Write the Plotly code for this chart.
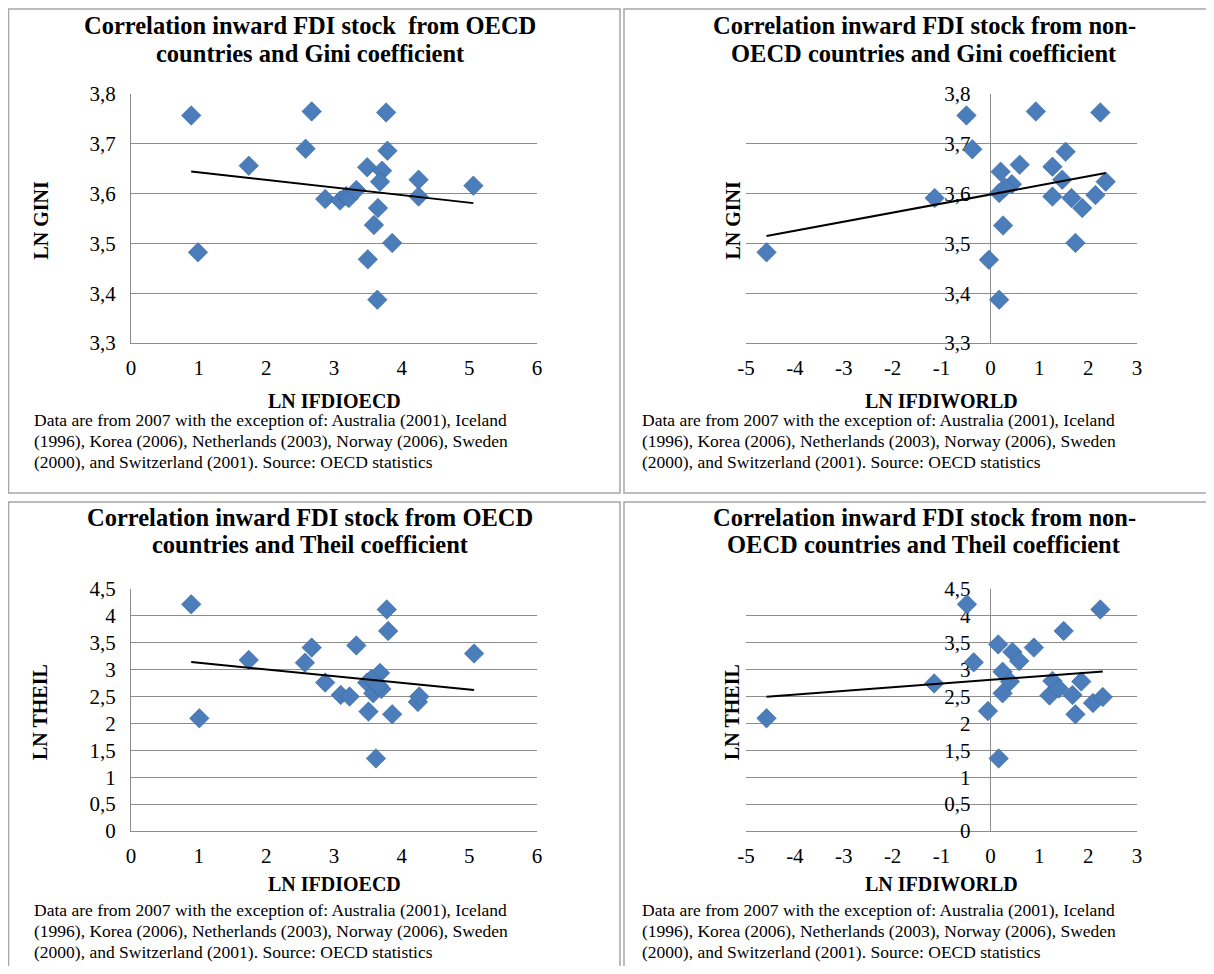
import numpy as np
import plotly.graph_objects as go

# The page keeps the browser's default 8px body margin, so the figure is
# sized to fill the 1214x974 window exactly with that margin around it.
PAGE_W, PAGE_H = 1214, 974
OFF = 8
W, H = PAGE_W - 2 * OFF, PAGE_H - 2 * OFF

# ---------------- data ----------------
# Panel 1: LN IFDIOECD vs LN GINI
oecd_x_gini = [0.89, 0.99, 1.74, 2.67, 2.58, 2.87, 3.09, 3.18, 3.22, 3.33, 3.49, 3.50,
               3.64, 3.59, 3.65, 3.71, 3.68, 3.77, 3.79, 3.86, 4.25, 4.25, 5.06]
gini_oecd = [3.757, 3.482, 3.656, 3.765, 3.690, 3.589, 3.586, 3.595, 3.591, 3.607, 3.653, 3.468,
             3.387, 3.537, 3.571, 3.646, 3.624, 3.763, 3.686, 3.501, 3.628, 3.594, 3.616]

# Panel 2: LN IFDIWORLD vs LN GINI
world_x_gini = [-4.58, -1.14, -0.49, -0.37, -0.03, 0.18, 0.26, 0.21, 0.18, 0.44, 0.60, 0.93,
                1.27, 1.27, 1.47, 1.54, 1.66, 1.74, 1.88, 2.15, 2.25, 2.36, 0.30]
gini_world = [3.482, 3.591, 3.757, 3.689, 3.467, 3.387, 3.536, 3.644, 3.601, 3.619, 3.658, 3.765,
              3.654, 3.594, 3.628, 3.684, 3.591, 3.501, 3.571, 3.597, 3.763, 3.624, 3.612]

# Panel 3: LN IFDIOECD vs LN THEIL
oecd_x_theil = [0.89, 1.01, 1.74, 2.67, 2.57, 2.87, 3.10, 3.23, 3.33, 3.49, 3.51, 3.62,
                3.58, 3.68, 3.70, 3.55, 3.66, 3.78, 3.80, 3.86, 4.24, 4.26, 5.07]
theil_oecd = [4.215, 2.095, 3.18, 3.41, 3.13, 2.76, 2.53, 2.50, 3.45, 2.76, 2.22, 1.35,
              2.56, 2.94, 2.64, 2.82, 2.70, 4.12, 3.72, 2.17, 2.40, 2.50, 3.30]

# Panel 4: LN IFDIWORLD vs LN THEIL
world_x_theil = [-4.58, -1.15, -0.48, -0.34, -0.05, 0.17, 0.16, 0.25, 0.25, 0.40, 0.45, 0.59,
                 0.89, 1.21, 1.27, 1.40, 1.50, 1.68, 1.74, 1.86, 2.10, 2.25, 2.30]
theil_world = [2.095, 2.745, 4.215, 3.136, 2.23, 1.35, 3.47, 2.96, 2.56, 2.78, 3.33, 3.16,
               3.41, 2.52, 2.79, 2.65, 3.72, 2.53, 2.17, 2.78, 2.38, 4.12, 2.49]

# ticks
oecd_ticks = [0, 1, 2, 3, 4, 5, 6]
world_ticks = [-5, -4, -3, -2, -1, 0, 1, 2, 3]
gini_ticks = [3.3, 3.4, 3.5, 3.6, 3.7, 3.8]
theil_ticks = [0, 0.5, 1, 1.5, 2, 2.5, 3, 3.5, 4, 4.5]

titles = [
    ["Correlation inward FDI stock  from OECD", "countries and Gini coefficient"],
    ["Correlation inward FDI stock from non-", "OECD countries and Gini coefficient"],
    ["Correlation inward FDI stock from OECD", "countries and Theil coefficient"],
    ["Correlation inward FDI stock from non-", "OECD countries and Theil coefficient"],
]
xtitles = ["LN IFDIOECD", "LN IFDIWORLD", "LN IFDIOECD", "LN IFDIWORLD"]
ytitles = ["LN GINI", "LN GINI", "LN THEIL", "LN THEIL"]
note_lines = [
    "Data are from 2007 with the exception of: Australia (2001), Iceland",
    "(1996), Korea (2006), Netherlands (2003), Norway (2006), Sweden",
    "(2000), and Switzerland (2001). Source: OECD statistics",
]

# ---------------- layout helpers ----------------
FONT = "Liberation Serif, Times New Roman, serif"
GRID = "#8c8c8c"
MARK = "#4a7dba"


def fx(p):  # screen pixel -> paper fraction
    return (p - OFF) / W


def fy(p):
    return 1 - (p - OFF) / H


def fmt(v):
    return ("%g" % v).replace(".", ",")


panels = [
    dict(x=oecd_x_gini, y=gini_oecd, xr=[0, 6], xt=oecd_ticks, yr=[3.3, 3.8], yt=gini_ticks,
         px=(131, 537), py=(94, 343), box=(8.5, 9, 620, 493), world=False,
         title_y=26, xtitle_y=401, note_y=420),
    dict(x=world_x_gini, y=gini_world, xr=[-5, 3], xt=world_ticks, yr=[3.3, 3.8], yt=gini_ticks,
         px=(746, 1137), py=(94, 343), box=(624, 9, 1230, 493), world=True,
         title_y=26, xtitle_y=401, note_y=420),
    dict(x=oecd_x_theil, y=theil_oecd, xr=[0, 6], xt=oecd_ticks, yr=[0, 4.5], yt=theil_ticks,
         px=(131, 537), py=(589, 831), box=(8.5, 502, 620, 990), world=False,
         title_y=517, xtitle_y=884, note_y=910),
    dict(x=world_x_theil, y=theil_world, xr=[-5, 3], xt=world_ticks, yr=[0, 4.5], yt=theil_ticks,
         px=(746, 1137), py=(589, 831), box=(624, 502, 1230, 990), world=True,
         title_y=517, xtitle_y=884, note_y=910),
]

fig = go.Figure()
annotations = []
shapes = []
layout = {}

for i, p in enumerate(panels):
    n = i + 1
    xa = "x" if n == 1 else "x%d" % n
    ya = "y" if n == 1 else "y%d" % n
    xkey = "xaxis" if n == 1 else "xaxis%d" % n
    ykey = "yaxis" if n == 1 else "yaxis%d" % n

    fig.add_trace(go.Scatter(
        x=p["x"], y=p["y"], mode="markers", xaxis=xa, yaxis=ya,
        marker=dict(symbol="diamond", size=15, color=MARK,
                    line=dict(color="#3a679f", width=0.6)),
        showlegend=False, hoverinfo="skip"))
    # linear trendline (least squares over the data)
    xs = np.array(p["x"], dtype=float)
    ys = np.array(p["y"], dtype=float)
    k, b = np.polyfit(xs, ys, 1)
    xl = np.array([xs.min(), xs.max()])
    fig.add_trace(go.Scatter(
        x=xl, y=k * xl + b, mode="lines", xaxis=xa, yaxis=ya,
        line=dict(color="black", width=2), showlegend=False, hoverinfo="skip"))

    xd = [fx(p["px"][0]), fx(p["px"][1])]
    yd = [fy(p["py"][1]), fy(p["py"][0])]
    layout[xkey] = dict(
        domain=xd, range=p["xr"], anchor=ya, tickmode="array", tickvals=p["xt"],
        ticktext=[fmt(v) for v in p["xt"]], showgrid=False, showline=True,
        linecolor=GRID, linewidth=1, ticks="", ticklabelstandoff=6, automargin=False,
        tickfont=dict(family=FONT, size=21, color="#000"),
        zeroline=p["world"], zerolinecolor=GRID, zerolinewidth=1,
        fixedrange=True, layer="below traces")
    yax = dict(
        domain=yd, range=p["yr"], tickmode="array", tickvals=p["yt"],
        ticktext=[fmt(v) for v in p["yt"]], showgrid=True, gridcolor=GRID, gridwidth=1,
        zeroline=False, ticks="", automargin=False,
        tickfont=dict(family=FONT, size=21, color="#000"),
        fixedrange=True, layer="below traces")
    if p["world"]:
        frac = (0 - p["xr"][0]) / (p["xr"][1] - p["xr"][0])
        yax.update(anchor="free", position=xd[0] + (xd[1] - xd[0]) * frac, showline=False,
                   ticklabelstandoff=20)
    else:
        yax.update(anchor=xa, showline=True, linecolor=GRID, linewidth=1,
                   ticklabelstandoff=10)
    layout[ykey] = yax

    # panel box
    bx0, by0, bx1, by1 = p["box"]
    shapes.append(dict(type="rect", xref="paper", yref="paper",
                       x0=fx(bx0), x1=fx(bx1), y0=fy(by1), y1=fy(by0),
                       line=dict(color="#a6a6a6", width=1.5), layer="below"))

    # chart titles
    cx = 310 if not p["world"] else 924
    for j, line in enumerate(titles[i]):
        annotations.append(dict(
            text="<b>%s</b>" % line, xref="paper", yref="paper",
            x=fx(cx), y=fy(p["title_y"] + j * 27.5), xanchor="center", yanchor="middle",
            showarrow=False, font=dict(family=FONT, size=24.5, color="#000")))
    # axis titles
    xcx = (p["px"][0] + p["px"][1]) / 2
    annotations.append(dict(
        text="<b>%s</b>" % xtitles[i], xref="paper", yref="paper",
        x=fx(xcx), y=fy(p["xtitle_y"]), xanchor="center", yanchor="middle",
        showarrow=False, font=dict(family=FONT, size=20, color="#000")))
    ycx = 40 if not p["world"] else 732
    annotations.append(dict(
        text="<b>%s</b>" % ytitles[i], xref="paper", yref="paper",
        x=fx(ycx), y=fy((p["py"][0] + p["py"][1]) / 2 + 2), xanchor="center",
        yanchor="middle", textangle=-90,
        showarrow=False, font=dict(family=FONT, size=20, color="#000")))
    # footnote, one annotation per line
    fx0 = 32 if not p["world"] else 640
    for j, line in enumerate(note_lines):
        annotations.append(dict(
            text=line, xref="paper", yref="paper", align="left",
            x=fx(fx0), y=fy(p["note_y"] + 21 * j), xanchor="left", yanchor="middle",
            showarrow=False, font=dict(family=FONT, size=17.5, color="#000")))

fig.update_layout(
    width=W, height=H,
    margin=dict(l=0, r=0, t=0, b=0, pad=0, autoexpand=False),
    paper_bgcolor="white", plot_bgcolor="white",
    separators=", ", showlegend=False,
    annotations=annotations, shapes=shapes, **layout)

fig.write_html("out.html", config={"displayModeBar": False})
